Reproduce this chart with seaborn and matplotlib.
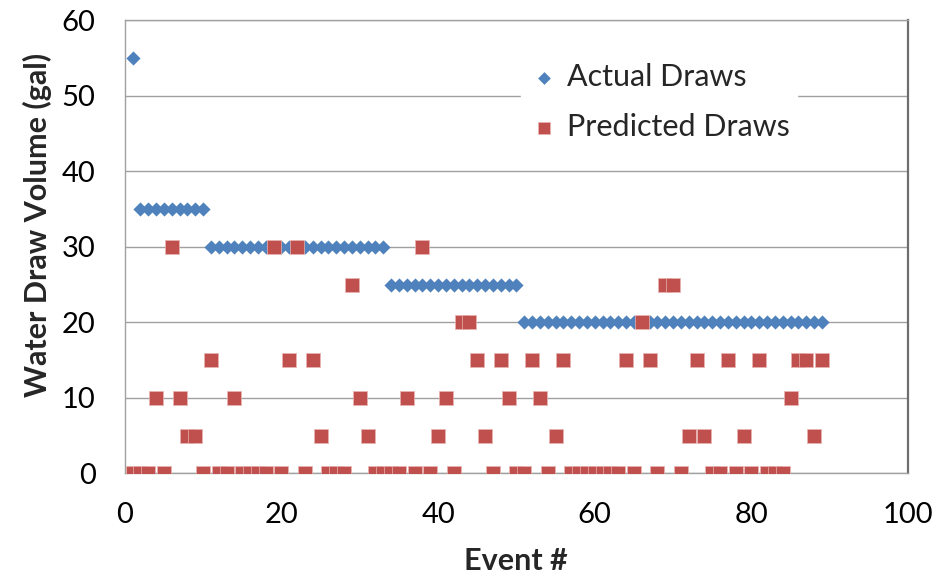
import numpy as np
import pandas as pd
import matplotlib
matplotlib.use("Agg")
import matplotlib.pyplot as plt
import seaborn as sns

# Event numbers and water draw volumes (gal)
events = list(range(1, 90))
actual_draws = [55] + [35] * 9 + [30] * 23 + [25] * 17 + [20] * 39
predicted_draws = [
    0, 0, 0, 10, 0, 30, 10, 5, 5, 0,
    15, 0, 0, 10, 0, 0, 0, 0, 30, 0,
    15, 30, 0, 15, 5, 0, 0, 0, 25, 10,
    5, 0, 0, 0, 0, 10, 0, 30, 0, 5,
    10, 0, 20, 20, 15, 5, 0, 15, 10, 0,
    0, 15, 10, 0, 5, 15, 0, 0, 0, 0,
    0, 0, 0, 15, 0, 20, 15, 0, 25, 25,
    0, 5, 15, 5, 0, 0, 15, 0, 5, 0,
    15, 0, 0, 0, 10, 15, 15, 5, 15,
]
x_ticks = [0, 20, 40, 60, 80, 100]
y_ticks = [0, 10, 20, 30, 40, 50, 60]

df_actual = pd.DataFrame({"event": events, "volume": actual_draws})
df_pred = pd.DataFrame({"event": events, "volume": predicted_draws})

sns.set_style("white")
plt.rcParams["font.family"] = ["Lato", "DejaVu Sans"]

BLUE = "#4F81BD"
RED = "#C0504D"
GRID = "#A0A0A0"

fig = plt.figure(figsize=(9.37, 5.77), dpi=100)
ax = fig.add_axes([0.1331, 0.1797, 0.8360, 0.7851])

sns.scatterplot(data=df_actual, x="event", y="volume", ax=ax, marker="D",
                s=52, color=BLUE, linewidth=0, label="Actual Draws", zorder=3)
sns.scatterplot(data=df_pred, x="event", y="volume", ax=ax, marker="s",
                s=100, color=RED, edgecolor="#E8B4B2", linewidth=0.5,
                label="Predicted Draws", zorder=4)

ax.set_xlim(0, 100)
ax.set_ylim(0, 60)
ax.set_xticks(x_ticks)
ax.set_yticks(y_ticks)
ax.yaxis.grid(True, color=GRID, linewidth=1.0)
ax.set_axisbelow(True)

for side in ["left", "bottom", "top"]:
    ax.spines[side].set_color(GRID)
    ax.spines[side].set_linewidth(1.0)
ax.spines["right"].set_color("#6E6E6E")
ax.spines["right"].set_linewidth(1.6)

ax.tick_params(axis="both", which="major", direction="out", length=8,
               width=1.0, color=GRID, labelsize=21, pad=13, labelcolor="black")

ax.set_xlabel("Event #", fontsize=22, fontweight="bold")
ax.set_ylabel("Water Draw Volume (gal)", fontsize=22, fontweight="bold")
ax.xaxis.set_label_coords(0.499, -0.163)
ax.yaxis.set_label_coords(-0.093, 0.548)

leg = ax.legend(loc="center left", bbox_to_anchor=(0.506, 0.8196), frameon=True,
                fontsize=22, markerscale=0.9, handletextpad=0.25,
                labelspacing=0.69, borderpad=0.25, handlelength=1.0,
                borderaxespad=0)
leg.get_frame().set_facecolor("white")
leg.get_frame().set_edgecolor("white")
leg.get_frame().set_alpha(1.0)
leg.get_frame().set_boxstyle("square", pad=0)

fig.savefig("out.png", dpi=100)
